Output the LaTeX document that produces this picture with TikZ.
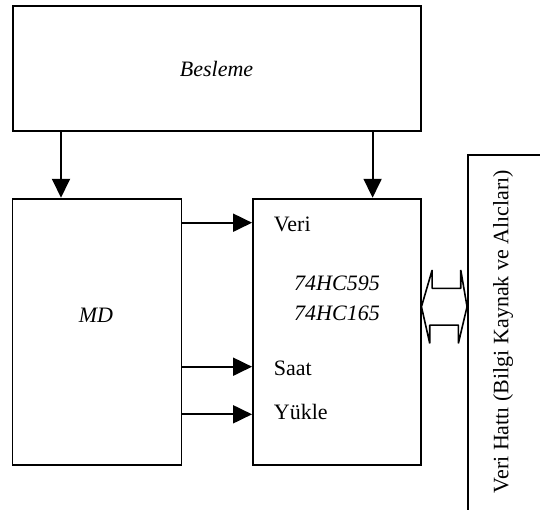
\documentclass[tikz,border=0pt]{standalone}
\usepackage{fontspec}
\setmainfont{Liberation Serif}
\usetikzlibrary{arrows.meta}

\begin{document}
\begin{tikzpicture}[x=1pt,y=-1pt,line width=1.9pt]

\tikzset{block/.style={draw=black,rectangle,inner sep=0pt},
         arr/.style={-{Triangle[length=19pt,width=18pt]}},
         lbl/.style={inner sep=0pt,font=\fontsize{22}{30}\selectfont},
         ital/.style={lbl,font=\fontsize{22}{30}\selectfont\itshape}}

\useasboundingbox (0,0) rectangle (540,509);
\clip (0,0) rectangle (540,509);

%% Supply
\node[block,minimum width=408pt,minimum height=125pt] (besleme) at (216.6,68.5) {};
\node[ital] (beslemetxt) at (besleme.center) {Besleme};

%% Microcontroller
\node[block,minimum width=169pt,minimum height=266pt] (md) at (97,331.7) {};
\node[ital] (mdtxt) at (96,315.5) {MD};

%% Shift registers
\node[block,minimum width=168pt,minimum height=266pt] (chip) at (337,331.7) {};
\node[ital,align=center] (chiptxt) at (337,298) {74HC595\\74HC165};
\node[lbl,anchor=base west] (veri) at (273,231) {Veri};
\node[lbl,anchor=base west] (saat) at (273,375) {Saat};
\node[lbl,anchor=base west] (yukle) at (273,419) {Yükle};

%% Data bus
\node[block,minimum width=90pt,minimum height=380pt] (bus) at (513,345) {};
\node[lbl,rotate=90] (bustxt) at (503,331.5) {Veri Hattı (Bilgi Kaynak ve Alıcları)};

%% Supply lines
\path (md.north) ++(-36,0) coordinate (mdin);
\path (chip.north) ++(35.6,0) coordinate (chipin);
\draw[arr] (besleme.south -| mdin) -- (mdin);
\draw[arr] (besleme.south -| chipin) -- (chipin);

%% Control lines
\path (chip.west) ++(0,-109) coordinate (in1);
\path (chip.west) ++(0,35) coordinate (in2);
\path (chip.west) ++(0,82.6) coordinate (in3);
\draw[arr] (md.east |- in1) -- (in1);
\draw[arr] (md.east |- in2) -- (in2);
\draw[arr] (md.east |- in3) -- (in3);

%% Two-way bus arrow
\path (chip.east) ++(-0.5,-25) coordinate (tipl);
\draw[line width=1.6pt,line join=bevel]
  (tipl) -- ++(10.7,-36.7) -- ++(0,18.3) -- ++(28.6,0) -- ++(0,-18.3)
  -- (bus.west |- tipl) -- ++(-8.7,36.7) -- ++(0,-18.3) -- ++(-28.6,0)
  -- ++(0,18.3) -- cycle;

\end{tikzpicture}
\end{document}
